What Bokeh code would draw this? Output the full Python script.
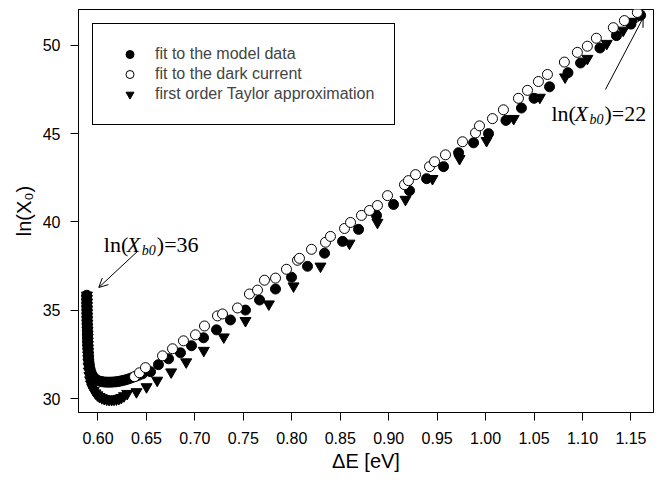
from bokeh.plotting import figure
from bokeh.models import (Range1d, FixedTicker, Label, Arrow, OpenHead, Legend,
                          LegendItem, NumeralTickFormatter)
from bokeh.embed import file_html
from bokeh.resources import INLINE

# ---------------- data ----------------
model_x = [0.5884, 0.5884, 0.5885, 0.5885, 0.5886, 0.5886, 0.5887, 0.5887, 0.5888, 0.5889,
           0.5890, 0.5891, 0.5892, 0.5893, 0.5894, 0.5896, 0.5898, 0.5900, 0.5903, 0.5907,
           0.5912, 0.5919, 0.5928, 0.5940, 0.5955, 0.5972, 0.5992, 0.6014, 0.6038, 0.6062,
           0.6087, 0.6112, 0.6137, 0.6162, 0.6187, 0.6212, 0.6237, 0.6262, 0.6290, 0.6320,
           0.6350, 0.6385, 0.6420, 0.6460, 0.6542, 0.6624, 0.6728, 0.6851, 0.6965, 0.7089,
           0.7223, 0.7367, 0.7522, 0.7667, 0.7832, 0.7997, 0.8162, 0.8338, 0.8524, 0.8689,
           0.8874, 0.9050, 0.9215, 0.9391, 0.9566, 0.9721, 0.9876, 1.003, 1.021, 1.037,
           1.050, 1.066, 1.085, 1.098, 1.118, 1.135, 1.150, 1.160]
model_y = [35.85, 35.65, 35.45, 35.25, 35.05, 34.85, 34.65, 34.45, 34.25, 34.05,
           33.85, 33.65, 33.45, 33.25, 33.05, 32.85, 32.65, 32.45, 32.25, 32.05,
           31.85, 31.65, 31.48, 31.33, 31.21, 31.11, 31.04, 30.99, 30.96, 30.94,
           30.93, 30.93, 30.93, 30.94, 30.95, 30.97, 31.00, 31.03, 31.07, 31.12,
           31.18, 31.25, 31.32, 31.40, 31.52, 31.92, 32.25, 32.59, 32.99, 33.44,
           33.89, 34.45, 35.01, 35.58, 36.20, 36.87, 37.49, 38.23, 38.90, 39.58,
           40.37, 40.99, 41.77, 42.45, 43.13, 43.92, 44.48, 45.0, 45.75, 46.45,
           47.0, 47.65, 48.45, 49.0, 49.85, 50.55, 51.2, 51.7]

dark_x = [0.6377, 0.6428, 0.6490, 0.6666, 0.6769, 0.6882, 0.7006, 0.7099, 0.7233, 0.7285,
          0.7440, 0.7563, 0.7646, 0.7718, 0.7832, 0.7945, 0.8059, 0.8079, 0.8203, 0.8348,
          0.8399, 0.8544, 0.8606, 0.8719, 0.8802, 0.8884, 0.8988, 0.9163, 0.9204, 0.9277,
          0.9421, 0.9473, 0.9586, 0.9762, 0.9896, 0.9937, 1.0071, 1.0184, 1.0339, 1.0432,
          1.0545, 1.0638, 1.0813, 1.0947, 1.1050, 1.1143, 1.1318, 1.1432, 1.1566]
dark_y = [31.24, 31.46, 31.75, 32.42, 32.82, 33.27, 33.61, 34.11, 34.68, 34.79,
          35.13, 35.92, 36.14, 36.70, 36.82, 37.32, 37.83, 37.94, 38.45, 38.85,
          39.18, 39.63, 39.97, 40.37, 40.65, 40.93, 41.49, 42.11, 42.34, 42.68,
          43.13, 43.41, 43.80, 44.54, 45.04, 45.44, 45.85, 46.35, 47.0, 47.45,
          47.95, 48.35, 49.05, 49.6, 49.95, 50.4, 51.0, 51.4, 51.86]

taylor_x = [0.5886, 0.5886, 0.5887, 0.5887, 0.5888, 0.5888, 0.5889, 0.5889, 0.5890, 0.5891,
            0.5892, 0.5893, 0.5894, 0.5895, 0.5896, 0.5897, 0.5898, 0.5899, 0.5900, 0.5901,
            0.5903, 0.5906, 0.5911, 0.5918, 0.5928, 0.5941, 0.5956, 0.5974, 0.5994, 0.6016,
            0.6040, 0.6065, 0.6090, 0.6115, 0.6140, 0.6165, 0.6190, 0.6215, 0.6240, 0.6268,
            0.6301, 0.6397, 0.6501, 0.6611, 0.6755, 0.6910, 0.7092, 0.7298, 0.7522, 0.7763,
            0.8018, 0.8296, 0.8595, 0.8884, 0.9173, 0.9452, 0.9731, 1.001, 1.029, 1.056,
            1.082, 1.105, 1.125, 1.142, 1.152, 1.158]
taylor_y = [35.85, 35.65, 35.45, 35.25, 35.05, 34.85, 34.65, 34.45, 34.25, 34.05,
            33.85, 33.65, 33.45, 33.25, 33.05, 32.85, 32.65, 32.45, 32.25, 32.05,
            31.8, 31.55, 31.3, 31.05, 30.82, 30.62, 30.45, 30.31, 30.2, 30.11,
            30.04, 29.99, 29.96, 29.94, 29.94, 29.95, 29.97, 30.0, 30.05, 30.15,
            30.28, 30.38, 30.66, 31.03, 31.50, 32.07, 32.72, 33.48, 34.41, 35.35,
            36.37, 37.49, 38.79, 39.97, 41.27, 42.45, 43.58, 44.6, 45.85, 47.05,
            48.2, 49.25, 50.1, 50.85, 51.35, 51.75]

x_ticks = [0.60, 0.65, 0.70, 0.75, 0.80, 0.85, 0.90, 0.95, 1.00, 1.05, 1.10, 1.15]
y_ticks = [30, 35, 40, 45, 50]
legend_labels = ["fit to the model data", "fit to the dark current",
                 "first order Taylor approximation"]
x_title = "\u0394E [eV]"
y_title = "ln(X\u2080)"

SANS = "Liberation Sans"
SERIF = "Liberation Serif"

# ---------------- figure ----------------
p = figure(width=655, height=474, output_backend="svg", toolbar_location=None,
           x_range=Range1d(0.57988, 1.17327), y_range=Range1d(29.211, 52.028),
           min_border_left=78, min_border_right=2, min_border_top=9, min_border_bottom=60)
p.background_fill_color = "white"
p.border_fill_color = "white"
p.outline_line_color = "black"
p.outline_line_width = 1
p.outline_line_alpha = 1
p.xgrid.visible = False
p.ygrid.visible = False

for ax in (p.xaxis[0], p.yaxis[0]):
    ax.axis_line_color = "black"
    ax.major_tick_line_color = "black"
    ax.minor_tick_line_color = None
    ax.major_tick_in = 0
    ax.major_tick_out = 8
    ax.major_label_text_font = SANS
    ax.major_label_text_font_size = "16px"
    ax.major_label_text_color = "black"
    ax.axis_label_text_font = SANS
    ax.axis_label_text_font_size = "20px"
    ax.axis_label_text_font_style = "normal"
    ax.axis_label_text_color = "black"

p.xaxis.ticker = FixedTicker(ticks=x_ticks)
p.xaxis.formatter = NumeralTickFormatter(format="0.00")
p.xaxis.major_label_standoff = 11
p.xaxis.axis_label = x_title
p.xaxis.axis_label_standoff = 3
p.yaxis.ticker = FixedTicker(ticks=y_ticks)
p.yaxis.major_label_standoff = 10
p.yaxis.axis_label = y_title
p.yaxis.axis_label_standoff = 5

# ---------------- series ----------------
r_model = p.scatter(model_x, model_y, marker="circle", size=10,
                    fill_color="black", line_color="black", line_width=1)
r_taylor = p.scatter(taylor_x, taylor_y, marker="inverted_triangle", size=11,
                     fill_color="black", line_color="black", line_width=1)
r_dark = p.scatter(dark_x, dark_y, marker="circle", size=10,
                   fill_color="white", line_color="black", line_width=1)

legend = Legend(items=[LegendItem(label=legend_labels[0], renderers=[r_model]),
                       LegendItem(label=legend_labels[1], renderers=[r_dark]),
                       LegendItem(label=legend_labels[2], renderers=[r_taylor])],
                location="top_left", margin=14, padding=20, spacing=0,
                label_height=20, glyph_height=20, glyph_width=33, label_standoff=9,
                label_text_font=SANS, label_text_font_size="16px",
                border_line_color="black", border_line_width=1, border_line_alpha=1,
                background_fill_color="white", background_fill_alpha=1)
p.add_layout(legend)

# ---------------- annotations ----------------
def label(x, y, text, font=SERIF, size="22px", style="normal", dx=0, dy=0):
    p.add_layout(Label(x=x, y=y, text=text, x_offset=dx, y_offset=dy,
                       text_font=font, text_font_size=size, text_font_style=style,
                       text_color="black", text_align="left",
                       text_baseline="alphabetic"))

for (ax_, ay_, tail) in [(0.606, 38.7, ")=36"), (1.068, 46.15, ")=22")]:
    label(ax_, ay_, "ln(")
    label(ax_, ay_, "X", style="italic", dx=23)
    label(ax_, ay_, "b0", size="14px", style="italic", dx=38, dy=-6)
    label(ax_, ay_, tail, dx=53)

p.add_layout(Arrow(x_start=0.6405, y_start=38.32, x_end=0.6008, y_end=36.29,
                   line_color="black", line_width=1,
                   end=OpenHead(size=9, line_color="black", line_width=1)))
p.add_layout(Arrow(x_start=1.1237, y_start=47.5, x_end=1.1626, y_end=51.56,
                   line_color="black", line_width=1,
                   end=OpenHead(size=9, line_color="black", line_width=1)))

open("out.html", "w").write(file_html(p, INLINE))
